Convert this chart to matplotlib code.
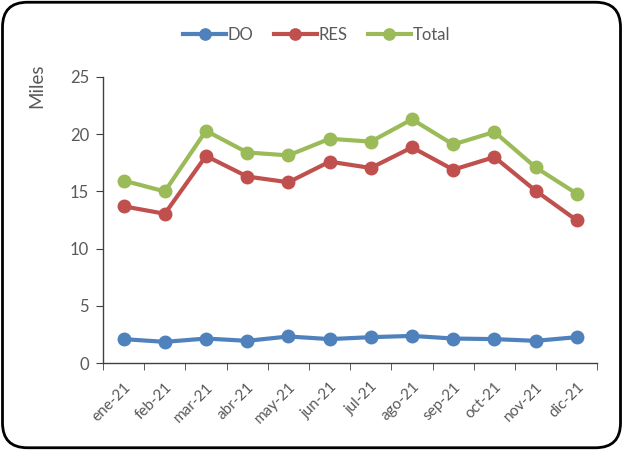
import matplotlib.pyplot as plt
from matplotlib.patches import FancyBboxPatch

# datos
meses = ["ene-21", "feb-21", "mar-21", "abr-21", "may-21", "jun-21",
         "jul-21", "ago-21", "sep-21", "oct-21", "nov-21", "dic-21"]
do_vals = [2.1, 1.86, 2.15, 1.95, 2.33, 2.1, 2.27, 2.38, 2.15, 2.1, 1.95, 2.27]
res_vals = [13.7, 13.05, 18.1, 16.3, 15.8, 17.6, 17.05, 18.85, 16.9, 18.0, 15.06, 12.47]
total_vals = [15.95, 15.0, 20.3, 18.4, 18.15, 19.6, 19.35, 21.3, 19.1, 20.2, 17.1, 14.8]

GRIS = "#595959"
plt.rcParams['font.family'] = ['Lato', 'DejaVu Sans']

fig = plt.figure(figsize=(6.23, 4.5), dpi=100)
ax = fig.add_axes([0.1653, 0.193, 0.7937, 0.636])

x = list(range(len(meses)))
ax.plot(x, do_vals, color="#4F81BD", lw=3, marker="o", ms=9, label="DO")
ax.plot(x, res_vals, color="#C0504D", lw=3, marker="o", ms=9, label="RES")
ax.plot(x, total_vals, color="#9BBB59", lw=3, marker="o", ms=9, label="Total")

ax.set_xlim(-0.5, len(meses) - 0.5)
ax.set_ylim(0, 25)
ax.set_yticks([0, 5, 10, 15, 20, 25])
ax.set_xticks(x)
ax.set_xticklabels(meses, rotation=45, ha="right", rotation_mode="anchor")
ax.set_xticks([i - 0.5 for i in range(len(meses) + 1)], minor=True)
ax.tick_params(axis="x", which="major", length=0, pad=12, labelsize=11, labelcolor=GRIS)
ax.tick_params(axis="x", which="minor", length=5, color="#404040")
ax.tick_params(axis="y", length=5, color="#404040", labelsize=12, labelcolor=GRIS, pad=5)

for s in ["top", "right"]:
    ax.spines[s].set_visible(False)
for s in ["left", "bottom"]:
    ax.spines[s].set_color("#404040")
    ax.spines[s].set_linewidth(1)

fig.text(0.059, 0.809, "Miles", rotation=90, color=GRIS, fontsize=13.5, ha="center", va="center")

fig.legend(loc="center", bbox_to_anchor=(0.508, 0.922), ncol=3, frameon=False,
           fontsize=12, labelcolor=GRIS, handlelength=2.6, columnspacing=1.2,
           handletextpad=0.1, markerscale=0.9)

# marco redondeado alrededor de todo
borde = FancyBboxPatch((0.004, 0.005), 0.992, 0.99, boxstyle="round,pad=0,rounding_size=0.04",
                       transform=fig.transFigure, fill=False, edgecolor="black", lw=2,
                       mutation_aspect=623/450)
fig.patches.append(borde)

fig.savefig("out.png", dpi=100)
